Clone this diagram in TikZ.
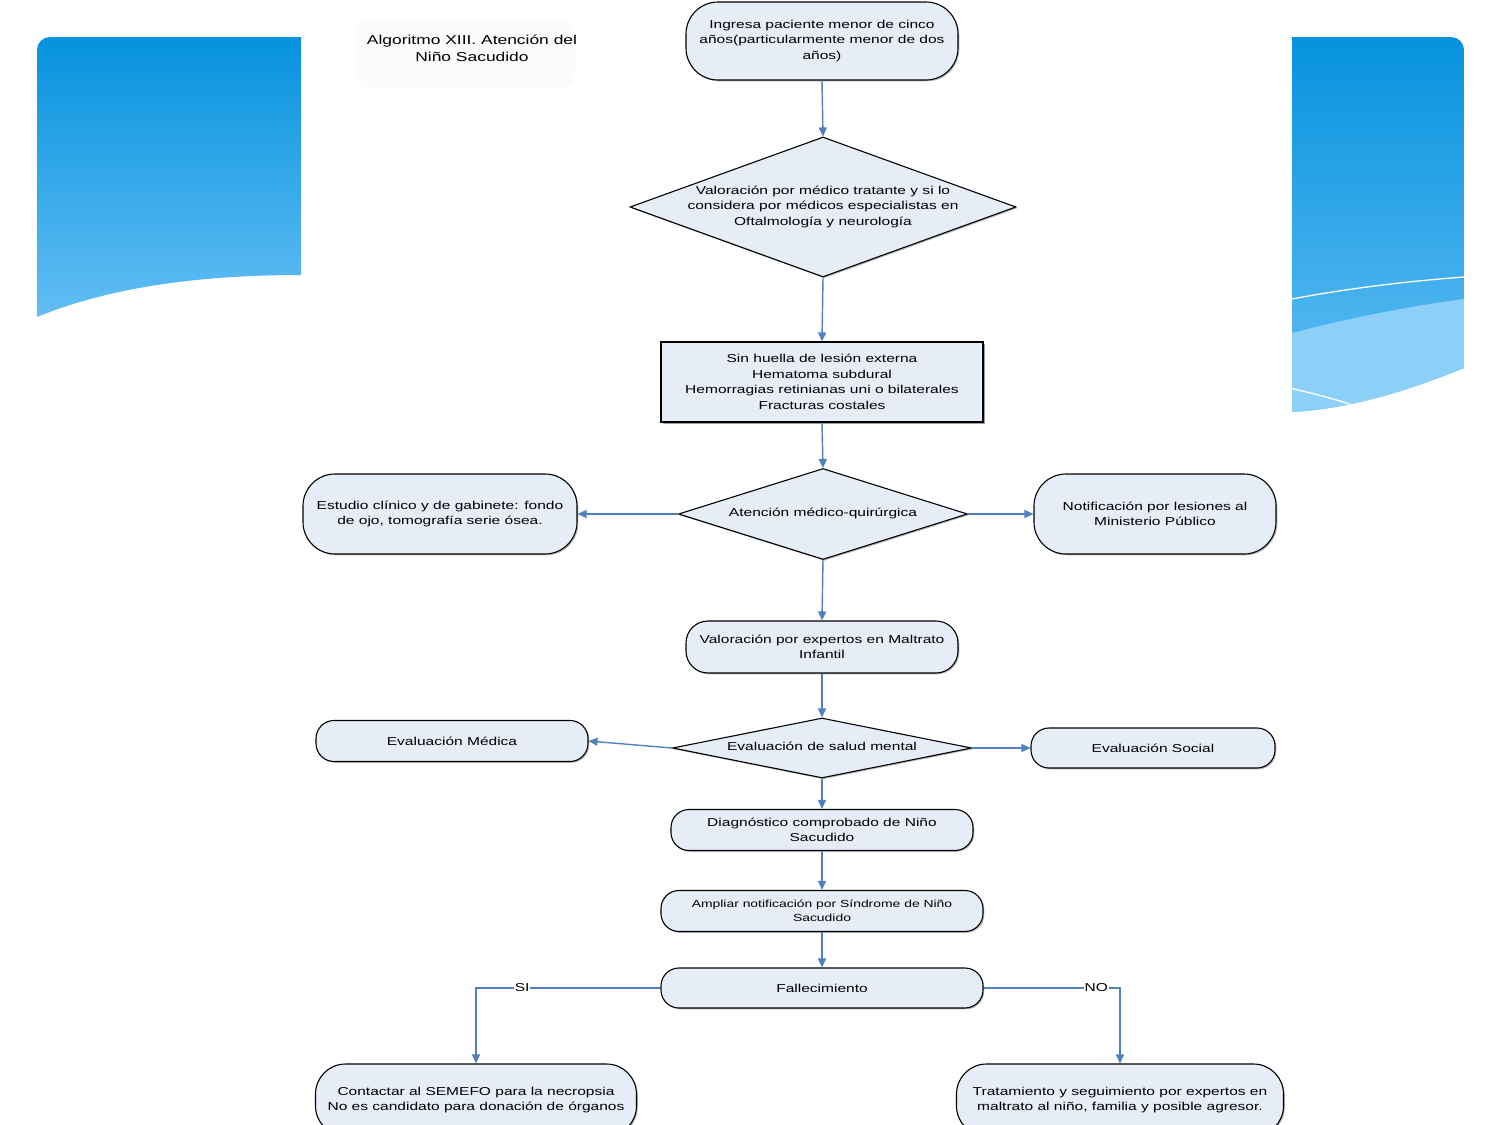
\documentclass[tikz,border=0pt]{standalone}
\usepackage{fontspec}
\setmainfont{Liberation Sans}[FakeStretch=1.35]
\usetikzlibrary{shapes.geometric,arrows.meta,shadows}
\definecolor{nodefill}{RGB}{231,237,247}
\definecolor{arr}{RGB}{79,129,189}
\definecolor{skytop}{RGB}{6,146,222}
\definecolor{skybot}{RGB}{98,190,244}
\definecolor{skylight}{RGB}{140,207,247}
\newcommand{\nodefont}{\fontsize{11.5}{15.5}\selectfont}
\newcommand{\ampfont}{\fontsize{10.3}{14}\selectfont}
\newcommand{\titlefont}{\fontsize{12.9}{17}\selectfont}
\newcommand{\zb}[1]{\makebox[0pt]{\smash{\raisebox{-0.25em}{\begin{tabular}{@{}c@{}}#1\end{tabular}}}}}
\tikzset{
  box/.style={draw=black, line width=1.1pt, fill=nodefill, align=center, font=\nodefont, inner sep=2pt,
    drop shadow={shadow xshift=1.3pt, shadow yshift=-1.3pt, fill=black!55}},
  stad/.style={box, rounded corners=#1},
  dia/.style={box, diamond, inner sep=0pt},
  con/.style={draw=arr, line width=1.4pt, -{Triangle[length=9pt,width=8pt]}},
  lab/.style={fill=white, inner sep=1pt, font=\nodefont, text=black}
}
\begin{document}
\begin{tikzpicture}[x=1pt,y=-1pt]
\clip (0,0) rectangle (1500,1125);
\fill[white] (0,0) rectangle (1500,1125);
% left decorative panel
\shade[top color=skytop, bottom color=skybot] (37,317) -- (37,50) arc[start angle=180, end angle=270, radius=13] -- (301,37) -- (301,275) .. controls (200,275) and (110,287) .. (37,317) -- cycle;
% right decorative panel
\begin{scope}
\clip (1292,37) -- (1451,37) arc[start angle=270, end angle=360, radius=13] -- (1464,368) .. controls (1410,390) and (1350,409) .. (1292,412) -- cycle;
\shade[top color=skytop, bottom color=skybot] (1292,37) rectangle (1464,412);
\fill[skylight] (1292,333) .. controls (1350,318) and (1410,306) .. (1464,299) -- (1464,420) -- (1292,420) -- cycle;
\draw[white, line width=1.3pt] (1292,299) .. controls (1350,288) and (1410,281) .. (1464,277);
\draw[white, line width=1.3pt] (1290,388) .. controls (1315,394) and (1335,399) .. (1352,405);
\end{scope}
% title
\fill[black!1.5, rounded corners=15] (355,18) rectangle (575,88);
\node[align=center, font=\titlefont] (title) at (472,48) {Algoritmo XIII. Atención del\\Niño Sacudido};
% nodes
\node[stad=32, minimum width=272, minimum height=78] (start) at (822,41) {Ingresa paciente menor de cinco\\años(particularmente menor de dos\\años)};
\node[dia, minimum width=386, minimum height=140] (d1) at (823,207) {\zb{Valoración por médico tratante y si lo\\considera por médicos especialistas en\\Oftalmología y neurología}};
\node[box, minimum width=322, minimum height=80, drop shadow={shadow xshift=1.8pt, shadow yshift=-1.8pt, fill=black!75}] (sig) at (822,382) {Sin huella de lesión externa\\Hematoma subdural\\Hemorragias retinianas uni o bilaterales\\Fracturas costales};
\node[dia, minimum width=289, minimum height=91] (d2) at (823,514) {\zb{Atención médico-quirúrgica}};
\node[stad=32, minimum width=274, minimum height=80] (est) at (440,514) {Estudio clínico y de gabinete: fondo\\de ojo, tomografía serie ósea.};
\node[stad=32, minimum width=242, minimum height=80] (not) at (1155,514) {Notificación por lesiones al\\Ministerio Público};
\node[stad=22, minimum width=272, minimum height=52] (val) at (822,647) {Valoración por expertos en Maltrato\\Infantil};
\node[dia, minimum width=299, minimum height=60] (d3) at (822,748) {\zb{Evaluación de salud mental}};
\node[stad=18, minimum width=272, minimum height=41] (evm) at (452,741) {Evaluación Médica};
\node[stad=18, minimum width=244, minimum height=40] (evs) at (1153,748) {Evaluación Social};
\node[stad=18, minimum width=302, minimum height=41] (diag) at (822,830) {Diagnóstico comprobado de Niño\\Sacudido};
\node[stad=18, minimum width=322, minimum height=41, font=\ampfont] (amp) at (822,911) {Ampliar notificación por Síndrome de Niño\\Sacudido};
\node[stad=18, minimum width=322, minimum height=40] (fal) at (822,988) {Fallecimiento};
\node[stad=30, minimum width=321, minimum height=72] (cont) at (476,1100) {Contactar al SEMEFO para la necropsia\\No es candidato para donación de órganos};
\node[stad=30, minimum width=327, minimum height=72] (trat) at (1120,1100) {Tratamiento y seguimiento por expertos en\\maltrato al niño, familia y posible agresor.};
% connectors
\draw[con] (start.south) -- (d1.north);
\draw[con] (d1.south) -- (sig.north);
\draw[con] (sig.south) -- (d2.north);
\draw[con] (d2.west) -- (est.east);
\draw[con] (d2.east) -- (not.west);
\draw[con] (d2.south) -- (val.north);
\draw[con] (val.south) -- (d3.north);
\draw[con] (d3.west) -- (evm.east);
\draw[con] (d3.east) -- (evs.west);
\draw[con] (d3.south) -- (diag.north);
\draw[con] (diag.south) -- (amp.north);
\draw[con] (amp.south) -- (fal.north);
\draw[con] (fal.west) -| node[lab, pos=0.375] {SI} (cont.north);
\draw[con] (fal.east) -| node[lab, pos=0.413] {NO} (trat.north);
\end{tikzpicture}
\end{document}
